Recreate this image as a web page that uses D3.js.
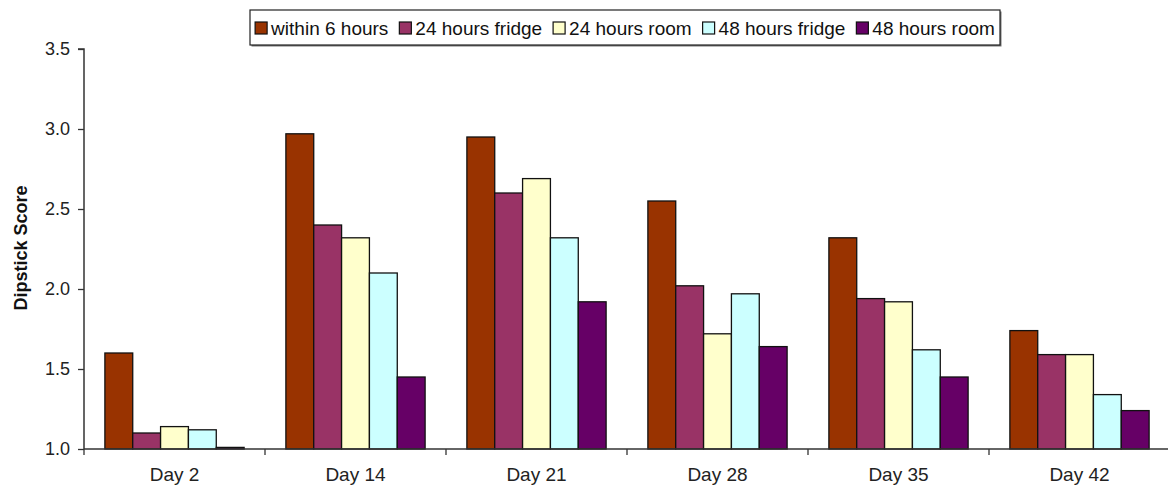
<!DOCTYPE html>
<html>
<head>
<meta charset="utf-8">
<script src="https://cdn.jsdelivr.net/npm/d3@7"></script>
<style>
  html, body { margin: 0; padding: 0; background: #fff; }
  svg { display: block; font-family: "Liberation Sans", Arial, sans-serif; }
</style>
</head>
<body>
<svg id="chart" width="1168" height="486"></svg>
<script>
// Dipstick score by storage condition, sampled on each day
const days = ["Day 2", "Day 14", "Day 21", "Day 28", "Day 35", "Day 42"];
const seriesNames = ["within 6 hours", "24 hours fridge", "24 hours room", "48 hours fridge", "48 hours room"];
const seriesColors = ["#993300", "#993366", "#FFFFCC", "#CCFFFF", "#660066"];

const within6h    = [1.60, 2.97, 2.95, 2.55, 2.32, 1.74];
const fridge24h   = [1.10, 2.40, 2.60, 2.02, 1.94, 1.59];
const room24h     = [1.14, 2.32, 2.69, 1.72, 1.92, 1.59];
const fridge48h   = [1.12, 2.10, 2.32, 1.97, 1.62, 1.34];
const room48h     = [1.01, 1.45, 1.92, 1.64, 1.45, 1.24];
const seriesValues = [within6h, fridge24h, room24h, fridge48h, room48h];

const yTicks = [1.0, 1.5, 2.0, 2.5, 3.0, 3.5];
const yTitle = "Dipstick Score";

const svg = d3.select("#chart");
const plot = { left: 84, right: 1170, top: 49, bottom: 449 };

const x0 = d3.scaleBand().domain(days).range([plot.left, plot.right]).padding(0);
const bw = x0.bandwidth();
const barW = bw / 6.5;                // gap between clusters = 1.5 bar widths
const x1 = d3.scaleBand().domain(seriesNames)
  .range([barW * 0.75, bw - barW * 0.75]).padding(0);
const y = d3.scaleLinear().domain([1.0, 3.5]).range([plot.bottom, plot.top]);

// Bars
const rows = [];
days.forEach((d, i) => seriesNames.forEach((s, j) => rows.push({ day: d, s, j, v: seriesValues[j][i] })));
svg.append("g").selectAll("rect").data(rows).join("rect")
  .attr("x", d => x0(d.day) + x1(d.s))
  .attr("y", d => y(d.v))
  .attr("width", x1.bandwidth())
  .attr("height", d => y(1.0) - y(d.v))
  .attr("fill", d => seriesColors[d.j])
  .attr("stroke", "#111")
  .attr("stroke-width", 1.3);

// Y axis
const yAxis = d3.axisLeft(y).tickValues(yTicks).tickFormat(d3.format(".1f")).tickSize(6).tickPadding(8);
const gy = svg.append("g").attr("transform", `translate(${plot.left},0)`).call(yAxis);
gy.select(".domain").attr("stroke", "#333").attr("stroke-width", 1.5).attr("d", `M-6,${plot.top}H0V${plot.bottom}`);
gy.selectAll(".tick line").attr("stroke", "#333").attr("stroke-width", 1.3);
gy.selectAll(".tick text").attr("font-size", 18).attr("fill", "#222")
  .attr("font-family", "Liberation Sans, Arial, sans-serif");

// X axis: ticks on the cluster boundaries, labels centred in each band
const gx = svg.append("g").attr("transform", `translate(0,${plot.bottom})`);
gx.append("line").attr("x1", plot.left).attr("x2", plot.right).attr("y1", 0).attr("y2", 0)
  .attr("stroke", "#333").attr("stroke-width", 1.5);
gx.selectAll("line.sep").data(days).join("line").attr("class", "sep")
  .attr("x1", d => x0(d)).attr("x2", d => x0(d)).attr("y1", 0).attr("y2", 6)
  .attr("stroke", "#333").attr("stroke-width", 1.3);
gx.selectAll("text").data(days).join("text")
  .attr("x", d => x0(d) + bw / 2).attr("y", 32)
  .attr("text-anchor", "middle").attr("font-size", 19).attr("fill", "#222")
  .text(d => d);

// Y title
svg.append("text")
  .attr("transform", "translate(27,248) rotate(-90)")
  .attr("text-anchor", "middle").attr("font-size", 18).attr("font-weight", "bold").attr("fill", "#111")
  .text(yTitle);

// Legend
const lg = svg.append("g");
const box = { x: 250, y: 10, w: 750, h: 35 };
lg.append("rect").attr("x", box.x + 1.5).attr("y", box.y + 1.5).attr("width", box.w).attr("height", box.h)
  .attr("fill", "#777");
lg.append("rect").attr("x", box.x).attr("y", box.y).attr("width", box.w).attr("height", box.h)
  .attr("fill", "#fff").attr("stroke", "#222").attr("stroke-width", 1.2);
const items = lg.selectAll("g.item").data(seriesNames).join("g").attr("class", "item");
items.append("rect").attr("width", 12).attr("height", 12).attr("y", -6)
  .attr("fill", (d, i) => seriesColors[i]).attr("stroke", "#111").attr("stroke-width", 1.2);
items.append("text").attr("x", 16).attr("y", 6.5).attr("font-size", 19).attr("fill", "#111").text(d => d);
let cx = 0;
const widths = [];
items.each(function () { widths.push(16 + this.querySelector("text").getComputedTextLength()); });
const gap = 11;
const total = d3.sum(widths) + gap * (widths.length - 1);
cx = box.x + (box.w - total) / 2;
items.attr("transform", (d, i) => {
  const t = `translate(${cx},${box.y + box.h / 2 + 0.5})`;
  cx += widths[i] + gap;
  return t;
});
</script>
</body>
</html>
